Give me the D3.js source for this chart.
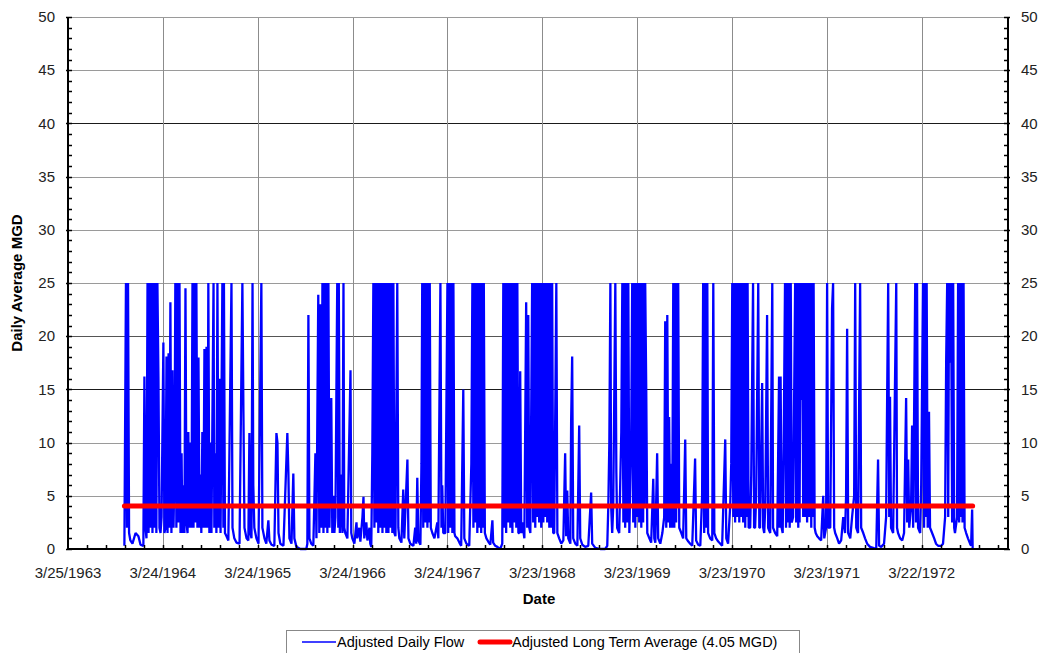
<!DOCTYPE html>
<html>
<head>
<meta charset="utf-8">
<script src="https://cdn.jsdelivr.net/npm/d3@7"></script>
<style>
  body { margin: 0; background: #fff; }
  svg { display: block; font-family: "Liberation Sans", Arial, sans-serif; }
</style>
</head>
<body>
<div id="chart"></div>
<script>
console.log('flow chart loaded');

// axis starts here, ticks every 365 days
var startDate = Date.UTC(1963, 2, 25);
var axisDays = 3617;
var tickStepDays = 365;
var minorStepDays = 73;
var yTicks = [0, 5, 10, 15, 20, 25, 30, 35, 40, 45, 50];
var longTermAvg = 4.05;

var seriesNames = ['Adjusted Daily Flow', 'Adjusted Long Term Average (4.05 MGD)'];

// [days since 3/25/1963, MGD]
var dailyFlow = [
  [217,0.3],[223,25],[227,2],[231,25],[235,1.5],[240,0.8],[248,0.5],[260,1.5],[271,1.2],[279,0.4],
  [290,0.3],[294,16.2],[298,2],[302,1],[306,25],[310,1.5],[313,25],[317,2],[321,25],[325,1.5],
  [329,25],[333,2],[337,25],[340,1.5],[344,25],[348,16.2],[352,2],[356,1.5],[360,3],[367,19.4],
  [371,1.5],[375,2],[379,18.1],[383,1.5],[387,18.4],[390,2],[394,23.2],[398,1.5],[402,16.8],[406,2],
  [410,8],[413,25],[417,2],[421,25],[425,2.5],[429,25],[433,1.5],[437,9],[440,1.5],[444,6],
  [448,1.5],[452,24.5],[456,2.5],[460,1.5],[463,11],[467,2],[471,10],[475,2],[479,25],[483,2],
  [487,25],[490,2.5],[494,25],[498,2],[502,18],[506,2],[510,7],[513,1.5],[517,11],[521,2],
  [525,18.8],[529,2],[533,19],[537,2],[540,25],[544,1.5],[548,10],[552,1.5],[560,25],[563,2],
  [567,9],[571,1.5],[575,25],[579,2],[583,16],[587,1.5],[594,25],[598,2],[600,25],[604,1.5],
  [610,1.2],[617,0.8],[629,25],[633,2],[640,1],[648,0.6],[660,0.5],[671,25],[675,12.9],[679,2],
  [687,1],[694,0.8],[698,10.9],[702,1.5],[706,1],[710,25],[713,6],[717,2],[725,1],[733,0.5],
  [744,25],[748,2],[756,1],[763,0.5],[771,2.7],[775,0.8],[783,0.4],[794,0.3],[802,10.9],[806,10],
  [810,1.5],[817,0.5],[829,0.3],[844,10.9],[848,7.2],[852,1],[860,0.5],[867,7.1],[871,1],[879,0.2],
  [894,0],[917,0],[921,0.5],[925,22],[929,1],[936,0.5],[944,0.3],[952,9],[956,1],[963,23.9],
  [967,1.5],[971,23],[975,2],[979,25],[983,1.5],[987,25],[990,2],[994,25],[998,1.5],[1002,25],
  [1006,2],[1013,14.2],[1017,1.5],[1021,5],[1025,1.5],[1029,3],[1036,25],[1040,2],[1042,25],[1046,1.5],
  [1052,7],[1056,1.5],[1060,25],[1063,2],[1067,1.5],[1075,1],[1087,16.8],[1090,1.5],[1094,1],[1102,0.5],
  [1110,2.5],[1113,1],[1121,2],[1125,0.7],[1133,3],[1137,4.9],[1140,1],[1148,2.5],[1152,0.8],[1160,2],
  [1163,0.5],[1167,0.2],[1171,9],[1175,25],[1179,2],[1183,25],[1187,2.5],[1190,25],[1194,1.5],[1198,25],
  [1202,2],[1206,25],[1210,1.5],[1213,25],[1217,2],[1221,25],[1225,1.5],[1229,25],[1233,1.5],[1237,25],
  [1240,2],[1244,25],[1248,1.5],[1252,25],[1256,1.5],[1260,1.2],[1267,25],[1271,2],[1275,1],[1283,0.6],
  [1290,5.6],[1294,1],[1306,8.4],[1310,1],[1317,0.5],[1329,0.3],[1336,2],[1340,0.5],[1344,6.7],[1348,0.8],
  [1356,0.4],[1360,8],[1363,25],[1367,2],[1371,25],[1375,2.5],[1379,25],[1383,2],[1387,25],[1390,2.5],
  [1392,25],[1396,2],[1402,1.5],[1410,1],[1421,2.5],[1425,1],[1433,25],[1437,2],[1440,6],[1444,1.5],
  [1452,1.5],[1460,25],[1463,1.5],[1467,25],[1471,2],[1475,25],[1479,1.5],[1483,25],[1487,1.5],[1490,1.2],
  [1498,1],[1506,0.6],[1513,0.3],[1521,15],[1525,1],[1533,0.5],[1544,0.3],[1552,8],[1556,25],[1560,2],
  [1563,25],[1567,2.5],[1571,25],[1575,1.5],[1579,25],[1583,2],[1586,25],[1590,1.5],[1594,25],[1596,2],
  [1600,25],[1604,1.5],[1610,1],[1617,0.7],[1625,0.4],[1633,2.7],[1636,0.6],[1644,0.3],[1652,0.2],[1663,0],
  [1671,0.5],[1675,25],[1679,2],[1683,25],[1686,1.5],[1690,25],[1694,2.5],[1698,25],[1702,2],[1706,25],
  [1710,1.5],[1713,25],[1717,2.5],[1721,25],[1725,2],[1729,25],[1733,1.5],[1736,1.5],[1740,16.7],[1744,1.5],
  [1748,2.5],[1756,1],[1763,23.2],[1767,2],[1771,22],[1775,2],[1779,1.5],[1786,25],[1790,2.5],[1794,25],
  [1798,2],[1802,25],[1806,3],[1810,25],[1813,2.5],[1817,25],[1821,2],[1825,25],[1829,2.5],[1833,25],
  [1837,3],[1840,25],[1844,2.5],[1848,25],[1852,2],[1856,25],[1860,2],[1863,25],[1867,1.5],[1871,1.5],
  [1879,25],[1883,1.5],[1890,1],[1898,0.5],[1906,0.8],[1913,9],[1917,1.2],[1921,5.5],[1925,1],[1933,0.5],
  [1936,12],[1940,18.1],[1944,1],[1952,0.5],[1960,0.3],[1967,11.6],[1971,1],[1979,0.4],[1990,0.2],[2002,0.3],
  [2013,5.3],[2017,0.5],[2029,0.1],[2048,0],[2067,0],[2075,0.3],[2079,4],[2083,10],[2087,25],[2090,4],
  [2094,1.5],[2098,4],[2106,25],[2110,7.2],[2113,2],[2121,1.5],[2129,11],[2133,25],[2137,2.5],[2140,25],
  [2144,2],[2148,25],[2152,2.5],[2156,25],[2160,1.5],[2167,10],[2171,25],[2175,2.5],[2179,25],[2183,2],
  [2186,25],[2190,3],[2194,25],[2198,2.5],[2202,25],[2206,2],[2210,25],[2213,2.5],[2217,25],[2219,4],
  [2221,25],[2225,15],[2229,1.5],[2237,1],[2244,0.6],[2252,6.6],[2256,1],[2260,0.6],[2267,9],[2271,1],
  [2279,0.5],[2287,1.5],[2294,3],[2298,21.4],[2302,2],[2306,22],[2310,2.5],[2313,12.4],[2317,2],[2321,8],
  [2325,2],[2329,25],[2333,2],[2337,25],[2340,2.5],[2344,25],[2346,4],[2348,25],[2352,2],[2360,1.5],
  [2367,1],[2375,10.3],[2379,1],[2387,0.7],[2394,0.5],[2402,0.3],[2413,8.5],[2417,0.8],[2425,0.4],[2433,0.3],
  [2440,5],[2444,25],[2448,1.5],[2452,25],[2456,2],[2460,25],[2463,1.5],[2471,1],[2479,0.8],[2483,25],
  [2487,1.5],[2494,1],[2502,0.7],[2510,0.5],[2517,0.3],[2529,10.3],[2533,1],[2540,0.5],[2548,4],[2552,8],
  [2556,25],[2560,3],[2563,25],[2567,2.5],[2571,25],[2575,3],[2579,25],[2583,2.5],[2586,25],[2590,3],
  [2594,25],[2598,2.5],[2602,25],[2606,2],[2610,25],[2611,3],[2615,25],[2619,2],[2625,2],[2629,7],
  [2636,25],[2640,2],[2644,2],[2648,5],[2656,25],[2660,2],[2663,2],[2671,15.6],[2675,2],[2679,1.5],
  [2683,4],[2690,22],[2694,2],[2702,1.5],[2710,25],[2713,2],[2721,1.5],[2729,1.2],[2736,16.2],[2738,2],
  [2742,16.2],[2746,2],[2750,1.5],[2754,10],[2759,25],[2763,2],[2767,25],[2771,2.5],[2775,25],[2777,2],
  [2781,25],[2785,2.5],[2790,3],[2798,25],[2802,2.5],[2806,25],[2810,2],[2813,25],[2815,2.5],[2819,25],
  [2821,14],[2825,25],[2829,3],[2833,25],[2837,3],[2840,25],[2844,2.5],[2848,25],[2852,3],[2856,25],
  [2860,2],[2863,25],[2865,3],[2869,25],[2873,2],[2877,1.5],[2883,1.2],[2890,1],[2898,0.8],[2906,5],
  [2910,1],[2917,2],[2921,25],[2925,2],[2933,2],[2940,22.6],[2944,25],[2948,2],[2952,1.5],[2960,1],
  [2967,0.5],[2975,0.8],[2983,3],[2990,1.5],[2994,5],[2998,20.7],[3002,1.5],[3010,1],[3017,3],[3025,5],
  [3029,25],[3033,2],[3040,1.5],[3048,25],[3052,2],[3060,1.5],[3067,1],[3075,0.5],[3086,0.2],[3098,0.1],
  [3110,0],[3117,8.4],[3121,0.3],[3129,0.2],[3140,0.5],[3148,3],[3152,14.3],[3156,25],[3160,3],[3163,14.3],
  [3167,2],[3175,1.5],[3187,25],[3190,2],[3194,1.5],[3202,1],[3210,0.8],[3217,1.5],[3225,14.2],[3229,2.5],
  [3233,8.4],[3237,2],[3244,4],[3248,11.6],[3252,2],[3260,25],[3263,2.5],[3267,25],[3271,2],[3279,1.5],
  [3283,6],[3290,25],[3294,2],[3298,25],[3300,3],[3304,25],[3308,2],[3313,12.9],[3317,2],[3325,1.5],
  [3333,1],[3340,0.5],[3348,0.3],[3360,0.3],[3367,0.5],[3375,3],[3379,17.5],[3383,25],[3387,3],[3390,25],
  [3394,17.5],[3398,25],[3402,2.5],[3406,25],[3410,2],[3413,1.5],[3421,3],[3425,25],[3429,2.5],[3433,25],
  [3437,3],[3440,25],[3442,2.5],[3446,25],[3450,2],[3456,1.5],[3463,1],[3471,0.5],[3475,0.3],[3479,3.7],
  [3481,0]
];

var width = 1043, height = 653;
var margin = { top: 17, right: 35, bottom: 104, left: 68 };
var w = width - margin.left - margin.right,
  h = height - margin.top - margin.bottom;

function dayToDate(d) {
  return d3.utcDay.offset(new Date(startDate), d);
}

var svg = d3.select('#chart')
  .append('svg')
  .attr('width', width)
  .attr('height', height);

var g = svg.append('g')
  .attr('transform', 'translate(' + margin.left + ',' + margin.top + ')');

var x = d3.scaleUtc()
  .domain([dayToDate(0), dayToDate(axisDays)])
  .range([0, w]);
var y = d3.scaleLinear()
  .domain([0, 50])
  .range([h, 0]);

var majorTicks = d3.range(0, axisDays, tickStepDays).map(dayToDate);
var minorTicks = d3.range(0, axisDays, minorStepDays).map(dayToDate);
var fmt = d3.utcFormat('%-m/%-d/%Y');

// gridlines
g.append('g')
  .selectAll('line')
  .data(yTicks.filter(v => v > 0))
  .enter()
  .append('line')
  .attr('x1', 0)
  .attr('x2', w)
  .attr('y1', d => Math.round(y(d)) + 0.5)
  .attr('y2', d => Math.round(y(d)) + 0.5)
  .attr('stroke', d => (d === 40 || d === 15) ? '#1a1a1a' : (d === 20 ? '#555' : '#9a9a9a'))
  .attr('stroke-width', 1);

g.append('g')
  .selectAll('line')
  .data(majorTicks.slice(1))
  .enter()
  .append('line')
  .attr('x1', d => Math.round(x(d)) + 0.5)
  .attr('x2', d => Math.round(x(d)) + 0.5)
  .attr('y1', 0)
  .attr('y2', h)
  .attr('stroke', '#8c8c8c')
  .attr('stroke-width', 1);

// daily flow
var line = d3.line()
  .x(d => x(dayToDate(d[0])))
  .y(d => y(d[1]));

g.append('path')
  .datum(dailyFlow)
  .attr('fill', 'none')
  .attr('stroke', '#0000ff')
  .attr('stroke-width', 2.3)
  .attr('stroke-linejoin', 'bevel')
  .attr('d', line);

// long term average
var first = dailyFlow[0][0], last = dailyFlow[dailyFlow.length - 1][0];
g.append('line')
  .attr('x1', x(dayToDate(first)))
  .attr('x2', x(dayToDate(last)))
  .attr('y1', y(longTermAvg))
  .attr('y2', y(longTermAvg))
  .attr('stroke', '#ff0000')
  .attr('stroke-width', 5)
  .attr('stroke-linecap', 'round');

// frame
g.append('line').attr('x1', 0).attr('x2', w).attr('y1', 0.5).attr('y2', 0.5)
  .attr('stroke', '#9a9a9a');

// y axes, ticks point inward
var yMinor = d3.range(0, 51, 1);
function yAxisSide(xPos, dir) {
  var a = g.append('g');
  a.append('line')
    .attr('x1', xPos).attr('x2', xPos)
    .attr('y1', 0).attr('y2', h)
    .attr('stroke', '#000').attr('stroke-width', 2);
  a.selectAll('.tk')
    .data(yMinor)
    .enter()
    .append('line')
    .attr('x1', d => d % 5 === 0 ? xPos - dir * 2 : xPos)
    .attr('x2', xPos + dir * 4)
    .attr('y1', d => Math.round(y(d)) + 0.5)
    .attr('y2', d => Math.round(y(d)) + 0.5)
    .attr('stroke', '#000')
    .attr('stroke-width', 1.5);
  a.selectAll('text')
    .data(yTicks)
    .enter()
    .append('text')
    .attr('x', dir > 0 ? xPos - 13 : xPos + 13)
    .attr('y', d => y(d))
    .attr('dy', '0.35em')
    .attr('text-anchor', dir > 0 ? 'end' : 'start')
    .style('font-size', '15px')
    .attr('fill', '#222')
    .text(d => d);
}
yAxisSide(0, 1);
yAxisSide(w, -1);

// x axis
var xa = g.append('g');
xa.append('line')
  .attr('x1', -1).attr('x2', w + 1)
  .attr('y1', h).attr('y2', h)
  .attr('stroke', '#000').attr('stroke-width', 2);
xa.selectAll('.minor')
  .data(minorTicks.slice(1))
  .enter()
  .append('line')
  .attr('x1', d => Math.round(x(d)) + 0.5)
  .attr('x2', d => Math.round(x(d)) + 0.5)
  .attr('y1', h)
  .attr('y2', h - 4)
  .attr('stroke', '#000')
  .attr('stroke-width', 1.5);
xa.selectAll('text')
  .data(majorTicks)
  .enter()
  .append('text')
  .attr('x', d => x(d))
  .attr('y', h + 29)
  .attr('text-anchor', 'middle')
  .style('font-size', '15px')
  .attr('fill', '#222')
  .text(d => fmt(d));

// axis titles
svg.append('text')
  .attr('transform', 'translate(22,' + (margin.top + h / 2) + ') rotate(-90)')
  .attr('text-anchor', 'middle')
  .style('font-size', '15px')
  .style('font-weight', 'bold')
  .text('Daily Average MGD');

svg.append('text')
  .attr('x', 539)
  .attr('y', 604)
  .attr('text-anchor', 'middle')
  .style('font-size', '15px')
  .style('font-weight', 'bold')
  .text('Date');

// legend
var lg = svg.append('g');
lg.append('rect')
  .attr('x', 286.5).attr('y', 630.5)
  .attr('width', 513).attr('height', 30)
  .attr('fill', '#fff')
  .attr('stroke', '#888');
lg.append('line')
  .attr('x1', 302).attr('x2', 336).attr('y1', 642).attr('y2', 642)
  .attr('stroke', '#0000ff').attr('stroke-width', 1.5);
lg.append('text')
  .attr('x', 337).attr('y', 642).attr('dy', '0.35em')
  .style('font-size', '14.5px')
  .text(seriesNames[0]);
lg.append('line')
  .attr('x1', 480).attr('x2', 510).attr('y1', 642).attr('y2', 642)
  .attr('stroke', '#ff0000').attr('stroke-width', 5)
  .attr('stroke-linecap', 'round');
lg.append('text')
  .attr('x', 512).attr('y', 642).attr('dy', '0.35em')
  .style('font-size', '14.5px')
  .text(seriesNames[1]);
</script>
</body>
</html>
